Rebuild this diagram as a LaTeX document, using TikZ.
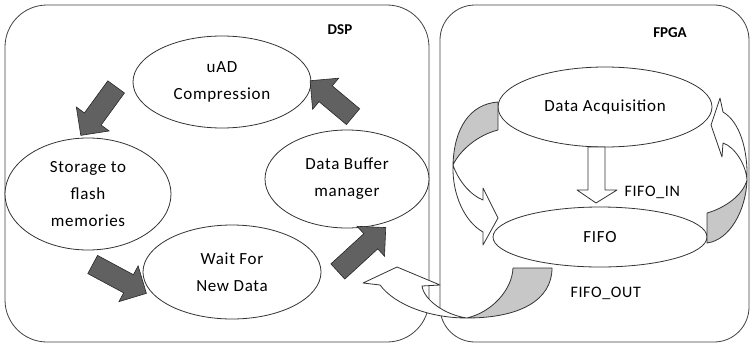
\documentclass[tikz,border=0pt]{standalone}
\usepackage{fontspec}
\setmainfont{Carlito}
\newfontfamily\stagefont[LetterSpace=4]{Carlito}
\usetikzlibrary{shapes.geometric,shapes.arrows}

\tikzset{
  stage/.style={ellipse, draw=black!80, line width=0.8pt, fill=white, inner sep=0pt,
    align=center, font=\stagefont\fontsize{17}{27}\selectfont},
  flowarrow/.style={single arrow, draw=black!85, fill=black!62, line width=0.6pt,
    inner xsep=0pt, inner ysep=10pt, single arrow head extend=10pt, sloped, allow upside down},
  ribbon/.style={draw=black!80, line width=0.8pt, fill=white, line join=round},
  ribbonback/.style={ribbon, fill=black!22},
  unit/.style={draw=black!75, line width=0.8pt},
  unitlabel/.style={font=\bfseries\fontsize{15}{18}\selectfont},
  buslabel/.style={font=\stagefont\fontsize{16}{19}\selectfont}
}

\begin{document}
\begin{tikzpicture}[x=1pt, y=-1pt]
        \useasboundingbox (0,0) rectangle (751,345);

        % --- Processor boxes ---
        \draw[unit, rounded corners=42pt] (5,5) rectangle (429,342);
        \draw[unit, rounded corners=35pt] (440,5) rectangle (749,342);
        \node[unitlabel] (dsp) at (340,30) {DSP};
        \node[unitlabel] (fpga) at (670,33) {FPGA};

        % --- DSP states ---
        \node[stage, minimum width=178pt, minimum height=92pt] (uad) at (222,82) {uAD\\Compression};
        \node[stage, minimum width=166pt, minimum height=112pt] (store) at (88,194) {Storage to\\flash\\memories};
        \node[stage, minimum width=178pt, minimum height=94pt] (wait) at (232,272) {Wait For\\New Data};
        \node[stage, minimum width=164pt, minimum height=98pt] (buffer) at (347,179) {Data Buffer\\manager};

        % --- FPGA blocks ---
        \node[stage, minimum width=214pt, minimum height=80pt] (acq) at (605,107) {Data Acquisition};
        \node[stage, minimum width=214pt, minimum height=60pt] (fifo) at (600,237) {FIFO};

        % --- State cycle (block arrows) ---
        \coordinate (uadOut) at (119,83);
        \coordinate (storeIn) at (84,131);
        \coordinate (storeOut) at (88,262);
        \coordinate (waitIn) at (142,291);
        \coordinate (waitOut) at (334,275);
        \coordinate (bufferIn) at (382,231);
        \coordinate (bufferOut) at (357,120);
        \coordinate (uadIn) at (314,84);
        \path (uadOut) -- (storeIn) node[flowarrow, midway, minimum height=60pt] (toStore) {};
        \path (storeOut) -- (waitIn) node[flowarrow, midway, minimum height=61pt] (toWait) {};
        \path (waitOut) -- (bufferIn) node[flowarrow, midway, minimum height=65pt] (toBuffer) {};
        \path (bufferOut) -- (uadIn) node[flowarrow, midway, minimum height=56pt] (toUad) {};

        % --- FIFO_IN ---
        \draw[ribbon] (588,147) -- (588,190) -- (577,190) -- (596,203) -- (617,190) -- (605,190) -- (605,147) -- cycle;
        \node[buslabel, anchor=west] (fifoin) at (621,192) {FIFO\_IN};

        % --- Loop acquisition -> FIFO (left) ---
        \draw[ribbonback] (498,102) .. controls (470,104) and (454,128) .. (453,165)
            .. controls (460,150) and (478,135) .. (498,130) -- cycle;
        \draw[ribbon] (453,165) .. controls (452,195) and (465,222) .. (483,232) -- (483,245) -- (498,218)
            -- (483,188) -- (483,200) .. controls (470,195) and (458,180) .. (453,165) -- cycle;

        % --- Loop FIFO -> acquisition (right) ---
        \draw[ribbonback] (707,213) -- (707,243) .. controls (730,240) and (746,210) .. (747,180)
            .. controls (743,195) and (725,208) .. (707,213) -- cycle;
        \draw[ribbon] (747,180) .. controls (748,150) and (740,122) .. (723,112) -- (720,98) -- (711,125)
            -- (722,157) -- (723,143) .. controls (735,147) and (746,165) .. (747,180) -- cycle;

        % --- FIFO_OUT to the buffer manager ---
        \draw[ribbonback] (513,268) -- (552,268) .. controls (552,300) and (520,318) .. (467,318)
            .. controls (492,312) and (512,290) .. (513,268) -- cycle;
        \draw[ribbon] (467,318) .. controls (430,318) and (395,305) .. (380,285) -- (363,283) -- (397,267)
            -- (440,285) -- (422,286) .. controls (424,300) and (445,315) .. (467,318) -- cycle;
        \node[buslabel, anchor=west] (fifoout) at (567,293) {FIFO\_OUT};

\end{tikzpicture}
\end{document}
